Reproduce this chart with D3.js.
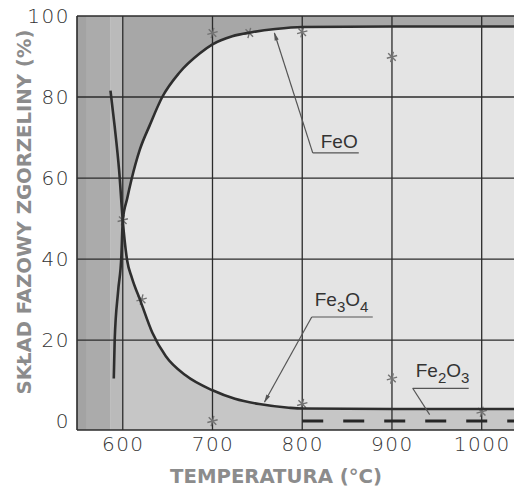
<!DOCTYPE html>
<html>
<head>
<meta charset="utf-8">
<script src="https://cdn.jsdelivr.net/npm/d3@7"></script>
<style>
    body { margin: 0; background: #fff; }
    svg { display: block; }
</style>
</head>
<body>
<svg id="chart" width="514" height="487"></svg>
<script>
// tick values
const xTicks = [600, 700, 800, 900, 1000];
const yTicks = [0, 20, 40, 60, 80, 100];
const yGrid = [20, 40, 60, 80, 100];

// FeO curve (temperature °C, share %)
const feoTemp = [590, 591, 594.8, 598.5, 600, 605, 609.6, 619, 630, 644, 663, 686, 700, 722, 744, 770, 800, 900, 1000, 1036];
const feoValue = [10.5, 20, 32, 41, 49.5, 55, 59.5, 67, 73, 80, 86, 90.8, 93, 95, 96, 96.8, 97.3, 97.4, 97.4, 97.4];

// Fe3O4 curve
const fe3o4Temp = [586.3, 591, 595.9, 600, 605, 610, 620, 633, 648, 670, 700, 725, 752, 785, 800, 900, 1000, 1036];
const fe3o4Value = [81.6, 72.7, 62, 49.5, 39.5, 35.5, 29.5, 21.8, 16, 11.3, 7.6, 5.5, 4.2, 3.3, 3.1, 3.0, 3.0, 3.0];

// Fe2O3 (dashed)
const fe2o3Temp = [800, 1036];
const fe2o3Value = [0, 0];

// measured points
const pointTemp = [600, 621, 700, 700, 741, 800, 800, 900, 900, 1000];
const pointValue = [49.6, 30, 0, 95.8, 95.8, 96, 4.2, 89.9, 10.5, 2.3];

// shaded bands left of 600 °C (temperature edges)
const bandEdges = [549, 560, 586, 600];

// labels with leader lines (tip, knee, underline end) in data units
const labels = [
    { parts: [["Fe", 0], ["O", 0]], tip: [769, 95.8], knee: [811.7, 66.2], end: 863, arrow: true },
    { parts: [["Fe", 0], ["3", 1], ["O", 0], ["4", 1]], tip: [758, 4.7], knee: [810.6, 25.7], end: 878.6, arrow: true },
    { parts: [["Fe", 0], ["2", 1], ["O", 0], ["3", 1]], tip: [942, 1.6], knee: [923.1, 8.1], end: 985.5, arrow: false }
];

const bandColors = ["#a3a3a3", "#ababab", "#bababa"];

const svg = d3.select("#chart");
const margin = { top: 16, left: 77, bottom: 430, right: 514 };

const x = d3.scaleLinear().domain([549, 1036]).range([margin.left, margin.right]);
const y = d3.scaleLinear().domain([-2.2, 100]).range([margin.bottom, margin.top]);

const feo = feoTemp.map((t, i) => ({ t: t, v: feoValue[i] }));
const fe3o4 = fe3o4Temp.map((t, i) => ({ t: t, v: fe3o4Value[i] }));
const fe2o3 = fe2o3Temp.map((t, i) => ({ t: t, v: fe2o3Value[i] }));

const plot = svg.append("g");

// clip to plot area
const defs = svg.append("defs");
defs.append("clipPath").attr("id", "clip")
    .append("rect")
    .attr("x", x(549)).attr("y", y(100))
    .attr("width", x(1036) - x(549)).attr("height", y(-2.2) - y(100));

defs.append("marker")
    .attr("id", "arrow")
    .attr("viewBox", "0 0 10 10")
    .attr("refX", 9).attr("refY", 5)
    .attr("markerWidth", 7).attr("markerHeight", 7)
    .attr("orient", "auto")
    .append("path")
    .attr("d", "M0,2.5 L10,5 L0,7.5 Z")
    .attr("fill", "#555");

const area = plot.append("g").attr("clip-path", "url(#clip)");

// light background
area.append("rect")
    .attr("x", x(549)).attr("y", y(100))
    .attr("width", x(1036) - x(549)).attr("height", y(-2.2) - y(100))
    .attr("fill", "#e4e4e4");

// above FeO -> dark
area.append("path")
    .datum(feo.filter(d => d.t >= 600))
    .attr("fill", "#a7a7a7")
    .attr("d", d3.area().x(d => x(d.t)).y0(y(100)).y1(d => y(d.v)).curve(d3.curveMonotoneX));

// below Fe3O4 -> medium
area.append("path")
    .datum(fe3o4.filter(d => d.t >= 600))
    .attr("fill", "#c6c6c6")
    .attr("d", d3.area().x(d => x(d.t)).y0(y(-2.2)).y1(d => y(d.v)).curve(d3.curveMonotoneX));

// bands left of 600
area.selectAll(".band")
    .data(d3.pairs(bandEdges))
    .enter()
    .append("rect")
    .attr("class", "band")
    .attr("x", d => x(d[0]))
    .attr("y", y(100))
    .attr("width", d => x(d[1]) - x(d[0]))
    .attr("height", y(-2.2) - y(100))
    .attr("fill", (d, i) => bandColors[i]);

// grid
plot.selectAll(".vgrid")
    .data(xTicks)
    .enter()
    .append("line")
    .attr("x1", d => x(d)).attr("x2", d => x(d))
    .attr("y1", y(100)).attr("y2", y(-2.2))
    .attr("stroke", "#2b2b2b").attr("stroke-width", 1.3);

plot.selectAll(".hgrid")
    .data(yGrid)
    .enter()
    .append("line")
    .attr("x1", x(549)).attr("x2", x(1036))
    .attr("y1", d => y(d)).attr("y2", d => y(d))
    .attr("stroke", "#2b2b2b").attr("stroke-width", 1.3);

// measured points
const sym = d3.symbol().type(d3.symbolAsterisk || d3.symbolCross).size(80);
plot.selectAll(".pt")
    .data(pointTemp)
    .enter()
    .append("path")
    .attr("transform", (d, i) => `translate(${x(d)},${y(pointValue[i])}) rotate(15)`)
    .attr("d", sym)
    .attr("fill", "none")
    .attr("stroke", "#727272")
    .attr("stroke-width", 1.4);

// curves
const line = d3.line().x(d => x(d.t)).y(d => y(d.v)).curve(d3.curveMonotoneX);

[feo, fe3o4].forEach(series => {
    plot.append("path")
        .datum(series)
        .attr("clip-path", "url(#clip)")
        .attr("fill", "none")
        .attr("stroke", "#2e2e2e")
        .attr("stroke-width", 2.6)
        .attr("d", line);
});

plot.append("path")
    .datum(fe2o3)
    .attr("clip-path", "url(#clip)")
    .attr("fill", "none")
    .attr("stroke", "#262626")
    .attr("stroke-width", 3)
    .attr("stroke-dasharray", "21,20")
    .attr("d", d3.line().x(d => x(d.t)).y(d => y(d.v)));

// labels
labels.forEach(lb => {
    const g = plot.append("g");
    const hasSub = lb.parts.some(p => p[1]);
    g.append("line")
        .attr("x1", x(lb.knee[0])).attr("y1", y(lb.knee[1]))
        .attr("x2", x(lb.end)).attr("y2", y(lb.knee[1]))
        .attr("stroke", "#555").attr("stroke-width", 1.2);
    const leader = g.append("line")
        .attr("x1", x(lb.knee[0])).attr("y1", y(lb.knee[1]))
        .attr("x2", x(lb.tip[0])).attr("y2", y(lb.tip[1]))
        .attr("stroke", "#555").attr("stroke-width", 1.2);
    if (lb.arrow) leader.attr("marker-end", "url(#arrow)");

    const txt = g.append("text")
        .attr("x", x(lb.knee[0]) + (hasSub ? 3 : 8))
        .attr("y", y(lb.knee[1]) - (hasSub ? 11 : 5))
        .attr("font-family", "Liberation Sans, Arial, sans-serif")
        .attr("font-size", 19)
        .attr("fill", "#333");
    let prevSub = 0;
    lb.parts.forEach(p => {
        const shift = (p[1] - prevSub) * 6;
        txt.append("tspan")
            .attr("dy", shift)
            .attr("font-size", p[1] ? 15 : 19)
            .text(p[0]);
        prevSub = p[1];
    });
});

// frame
plot.append("line")
    .attr("x1", x(549)).attr("x2", x(549))
    .attr("y1", y(100)).attr("y2", y(-2.2))
    .attr("stroke", "#2b2b2b").attr("stroke-width", 1.6);
plot.append("line")
    .attr("x1", x(549)).attr("x2", x(1036))
    .attr("y1", y(-2.2)).attr("y2", y(-2.2))
    .attr("stroke", "#2b2b2b").attr("stroke-width", 1.6);

// axes
const xAxis = svg.append("g")
    .attr("transform", `translate(0,${y(-2.2)})`)
    .call(d3.axisBottom(x).tickValues(xTicks).tickFormat(d3.format("d")).tickSize(0).tickPadding(7));
const yAxis = svg.append("g")
    .attr("transform", `translate(${x(549)},0)`)
    .call(d3.axisLeft(y).tickValues(yTicks).tickFormat(d3.format("d")).tickSize(0).tickPadding(7));

[xAxis, yAxis].forEach(ax => {
    ax.select(".domain").remove();
    ax.selectAll("text")
        .attr("font-family", "DejaVu Sans, sans-serif")
        .attr("font-weight", 200)
        .attr("font-size", 20)
        .attr("letter-spacing", 1.5)
        .attr("fill", "#333");
});

// axis titles
svg.append("text")
    .attr("x", 276)
    .attr("y", 483)
    .attr("text-anchor", "middle")
    .attr("font-family", "DejaVu Sans Condensed, DejaVu Sans, sans-serif")
    .attr("font-weight", "bold")
    .attr("font-size", 19)
    .attr("textLength", 212)
    .attr("lengthAdjust", "spacingAndGlyphs")
    .attr("fill", "#8c8c8c")
    .text("TEMPERATURA (°C)");

svg.append("text")
    .attr("transform", "translate(31,212) rotate(-90)")
    .attr("text-anchor", "middle")
    .attr("font-family", "DejaVu Sans Condensed, DejaVu Sans, sans-serif")
    .attr("font-weight", "bold")
    .attr("font-size", 19)
    .attr("textLength", 365)
    .attr("lengthAdjust", "spacingAndGlyphs")
    .attr("fill", "#8c8c8c")
    .text("SKŁAD FAZOWY ZGORZELINY (%)");
</script>
</body>
</html>
